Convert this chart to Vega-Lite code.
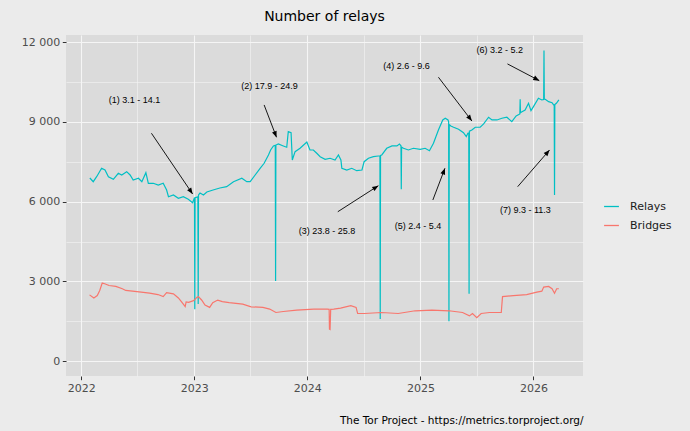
{
  "$schema": "https://vega.github.io/schema/vega-lite/v6.json",
  "width": 517,
  "height": 341,
  "autosize": {"type": "none"},
  "padding": {"left": 66, "top": 35, "right": 107, "bottom": 55},
  "background": "#EBEBEB",
  "config": {
    "view": {"fill": "#DBDBDB", "stroke": null},
    "font": "DejaVu Sans"
  },
  "title": {
    "text": "Number of relays",
    "fontSize": 14,
    "font": "DejaVu Sans",
    "fontWeight": "normal",
    "color": "#000000",
    "anchor": "middle",
    "baseline": "alphabetic",
    "offset": 0.5
  },
  "datasets": {
    "series": [
      {"date": "2022-01-29", "value": 6890, "series": "Relays"},
      {"date": "2022-02-09", "value": 6751, "series": "Relays"},
      {"date": "2022-02-20", "value": 6939, "series": "Relays"},
      {"date": "2022-03-08", "value": 7255, "series": "Relays"},
      {"date": "2022-03-19", "value": 7191, "series": "Relays"},
      {"date": "2022-03-30", "value": 6939, "series": "Relays"},
      {"date": "2022-04-15", "value": 6841, "series": "Relays"},
      {"date": "2022-05-01", "value": 7067, "series": "Relays"},
      {"date": "2022-05-12", "value": 7003, "series": "Relays"},
      {"date": "2022-05-28", "value": 7127, "series": "Relays"},
      {"date": "2022-06-08", "value": 7003, "series": "Relays"},
      {"date": "2022-06-18", "value": 6815, "series": "Relays"},
      {"date": "2022-07-05", "value": 6879, "series": "Relays"},
      {"date": "2022-07-16", "value": 6751, "series": "Relays"},
      {"date": "2022-07-29", "value": 7089, "series": "Relays"},
      {"date": "2022-08-06", "value": 6690, "series": "Relays"},
      {"date": "2022-08-22", "value": 6690, "series": "Relays"},
      {"date": "2022-09-07", "value": 6626, "series": "Relays"},
      {"date": "2022-09-23", "value": 6690, "series": "Relays"},
      {"date": "2022-10-04", "value": 6438, "series": "Relays"},
      {"date": "2022-10-10", "value": 6186, "series": "Relays"},
      {"date": "2022-10-26", "value": 6250, "series": "Relays"},
      {"date": "2022-11-11", "value": 6126, "series": "Relays"},
      {"date": "2022-11-27", "value": 6186, "series": "Relays"},
      {"date": "2022-12-13", "value": 6088, "series": "Relays"},
      {"date": "2022-12-27", "value": 5960, "series": "Relays"},
      {"date": "2023-01-02", "value": 6150, "series": "Relays"},
      {"date": "2023-01-03", "value": 1950, "series": "Relays"},
      {"date": "2023-01-04", "value": 6150, "series": "Relays"},
      {"date": "2023-01-13", "value": 6180, "series": "Relays"},
      {"date": "2023-01-14", "value": 2150, "series": "Relays"},
      {"date": "2023-01-15", "value": 6250, "series": "Relays"},
      {"date": "2023-01-20", "value": 6325, "series": "Relays"},
      {"date": "2023-01-31", "value": 6250, "series": "Relays"},
      {"date": "2023-02-11", "value": 6363, "series": "Relays"},
      {"date": "2023-03-03", "value": 6438, "series": "Relays"},
      {"date": "2023-03-25", "value": 6513, "series": "Relays"},
      {"date": "2023-04-16", "value": 6562, "series": "Relays"},
      {"date": "2023-05-08", "value": 6751, "series": "Relays"},
      {"date": "2023-06-04", "value": 6879, "series": "Relays"},
      {"date": "2023-06-20", "value": 6751, "series": "Relays"},
      {"date": "2023-07-01", "value": 6751, "series": "Relays"},
      {"date": "2023-07-17", "value": 7003, "series": "Relays"},
      {"date": "2023-08-02", "value": 7255, "series": "Relays"},
      {"date": "2023-08-15", "value": 7443, "series": "Relays"},
      {"date": "2023-08-29", "value": 7756, "series": "Relays"},
      {"date": "2023-09-05", "value": 7944, "series": "Relays"},
      {"date": "2023-09-14", "value": 8095, "series": "Relays"},
      {"date": "2023-09-20", "value": 8120, "series": "Relays"},
      {"date": "2023-09-21", "value": 3010, "series": "Relays"},
      {"date": "2023-09-22", "value": 8130, "series": "Relays"},
      {"date": "2023-09-30", "value": 8170, "series": "Relays"},
      {"date": "2023-10-16", "value": 8095, "series": "Relays"},
      {"date": "2023-10-27", "value": 8046, "series": "Relays"},
      {"date": "2023-11-01", "value": 8633, "series": "Relays"},
      {"date": "2023-11-10", "value": 8595, "series": "Relays"},
      {"date": "2023-11-14", "value": 7568, "series": "Relays"},
      {"date": "2023-11-23", "value": 7880, "series": "Relays"},
      {"date": "2023-12-09", "value": 8008, "series": "Relays"},
      {"date": "2023-12-31", "value": 8245, "series": "Relays"},
      {"date": "2024-01-10", "value": 7944, "series": "Relays"},
      {"date": "2024-01-21", "value": 7944, "series": "Relays"},
      {"date": "2024-02-01", "value": 7820, "series": "Relays"},
      {"date": "2024-02-12", "value": 7692, "series": "Relays"},
      {"date": "2024-02-28", "value": 7594, "series": "Relays"},
      {"date": "2024-03-15", "value": 7632, "series": "Relays"},
      {"date": "2024-03-31", "value": 7568, "series": "Relays"},
      {"date": "2024-04-11", "value": 7756, "series": "Relays"},
      {"date": "2024-04-19", "value": 7568, "series": "Relays"},
      {"date": "2024-04-22", "value": 7255, "series": "Relays"},
      {"date": "2024-05-08", "value": 7191, "series": "Relays"},
      {"date": "2024-05-24", "value": 7255, "series": "Relays"},
      {"date": "2024-06-09", "value": 7165, "series": "Relays"},
      {"date": "2024-06-26", "value": 7191, "series": "Relays"},
      {"date": "2024-07-03", "value": 7504, "series": "Relays"},
      {"date": "2024-07-17", "value": 7632, "series": "Relays"},
      {"date": "2024-08-02", "value": 7692, "series": "Relays"},
      {"date": "2024-08-18", "value": 7718, "series": "Relays"},
      {"date": "2024-08-23", "value": 7720, "series": "Relays"},
      {"date": "2024-08-24", "value": 1580, "series": "Relays"},
      {"date": "2024-08-25", "value": 7740, "series": "Relays"},
      {"date": "2024-08-29", "value": 7756, "series": "Relays"},
      {"date": "2024-09-14", "value": 8008, "series": "Relays"},
      {"date": "2024-10-01", "value": 8095, "series": "Relays"},
      {"date": "2024-10-17", "value": 8095, "series": "Relays"},
      {"date": "2024-10-25", "value": 8170, "series": "Relays"},
      {"date": "2024-10-30", "value": 8100, "series": "Relays"},
      {"date": "2024-10-31", "value": 6464, "series": "Relays"},
      {"date": "2024-11-01", "value": 8050, "series": "Relays"},
      {"date": "2024-11-07", "value": 8008, "series": "Relays"},
      {"date": "2024-11-23", "value": 7944, "series": "Relays"},
      {"date": "2024-12-09", "value": 8008, "series": "Relays"},
      {"date": "2024-12-31", "value": 7970, "series": "Relays"},
      {"date": "2025-01-16", "value": 8008, "series": "Relays"},
      {"date": "2025-01-30", "value": 7918, "series": "Relays"},
      {"date": "2025-02-12", "value": 8196, "series": "Relays"},
      {"date": "2025-02-28", "value": 8697, "series": "Relays"},
      {"date": "2025-03-14", "value": 9074, "series": "Relays"},
      {"date": "2025-03-22", "value": 9138, "series": "Relays"},
      {"date": "2025-03-31", "value": 9074, "series": "Relays"},
      {"date": "2025-04-02", "value": 9000, "series": "Relays"},
      {"date": "2025-04-03", "value": 1500, "series": "Relays"},
      {"date": "2025-04-04", "value": 8900, "series": "Relays"},
      {"date": "2025-04-09", "value": 8848, "series": "Relays"},
      {"date": "2025-04-18", "value": 8799, "series": "Relays"},
      {"date": "2025-05-04", "value": 8724, "series": "Relays"},
      {"date": "2025-05-20", "value": 8595, "series": "Relays"},
      {"date": "2025-05-29", "value": 8445, "series": "Relays"},
      {"date": "2025-06-03", "value": 8573, "series": "Relays"},
      {"date": "2025-06-06", "value": 8580, "series": "Relays"},
      {"date": "2025-06-07", "value": 2530, "series": "Relays"},
      {"date": "2025-06-08", "value": 8650, "series": "Relays"},
      {"date": "2025-06-16", "value": 8697, "series": "Relays"},
      {"date": "2025-06-27", "value": 8799, "series": "Relays"},
      {"date": "2025-07-13", "value": 8799, "series": "Relays"},
      {"date": "2025-07-24", "value": 8923, "series": "Relays"},
      {"date": "2025-08-09", "value": 9175, "series": "Relays"},
      {"date": "2025-08-20", "value": 9074, "series": "Relays"},
      {"date": "2025-09-05", "value": 9074, "series": "Relays"},
      {"date": "2025-09-21", "value": 9138, "series": "Relays"},
      {"date": "2025-10-07", "value": 9175, "series": "Relays"},
      {"date": "2025-10-23", "value": 9010, "series": "Relays"},
      {"date": "2025-11-06", "value": 9224, "series": "Relays"},
      {"date": "2025-11-18", "value": 9300, "series": "Relays"},
      {"date": "2025-11-19", "value": 9853, "series": "Relays"},
      {"date": "2025-11-20", "value": 9350, "series": "Relays"},
      {"date": "2025-11-25", "value": 9386, "series": "Relays"},
      {"date": "2025-12-05", "value": 9450, "series": "Relays"},
      {"date": "2025-12-16", "value": 9702, "series": "Relays"},
      {"date": "2025-12-24", "value": 9424, "series": "Relays"},
      {"date": "2026-01-01", "value": 9575, "series": "Relays"},
      {"date": "2026-01-17", "value": 9891, "series": "Relays"},
      {"date": "2026-01-28", "value": 9827, "series": "Relays"},
      {"date": "2026-02-03", "value": 9840, "series": "Relays"},
      {"date": "2026-02-04", "value": 11683, "series": "Relays"},
      {"date": "2026-02-05", "value": 9860, "series": "Relays"},
      {"date": "2026-02-08", "value": 9853, "series": "Relays"},
      {"date": "2026-02-19", "value": 9763, "series": "Relays"},
      {"date": "2026-03-02", "value": 9725, "series": "Relays"},
      {"date": "2026-03-07", "value": 9638, "series": "Relays"},
      {"date": "2026-03-09", "value": 9640, "series": "Relays"},
      {"date": "2026-03-10", "value": 6250, "series": "Relays"},
      {"date": "2026-03-11", "value": 9650, "series": "Relays"},
      {"date": "2026-03-16", "value": 9702, "series": "Relays"},
      {"date": "2026-03-24", "value": 9827, "series": "Relays"},
      {"date": "2022-01-28", "value": 2492, "series": "Bridges"},
      {"date": "2022-02-11", "value": 2376, "series": "Bridges"},
      {"date": "2022-02-22", "value": 2466, "series": "Bridges"},
      {"date": "2022-03-02", "value": 2658, "series": "Bridges"},
      {"date": "2022-03-10", "value": 2937, "series": "Bridges"},
      {"date": "2022-03-18", "value": 2910, "series": "Bridges"},
      {"date": "2022-04-01", "value": 2846, "series": "Bridges"},
      {"date": "2022-04-23", "value": 2809, "series": "Bridges"},
      {"date": "2022-05-14", "value": 2722, "series": "Bridges"},
      {"date": "2022-05-25", "value": 2658, "series": "Bridges"},
      {"date": "2022-06-16", "value": 2632, "series": "Bridges"},
      {"date": "2022-07-14", "value": 2594, "series": "Bridges"},
      {"date": "2022-08-10", "value": 2556, "series": "Bridges"},
      {"date": "2022-09-06", "value": 2504, "series": "Bridges"},
      {"date": "2022-09-23", "value": 2428, "series": "Bridges"},
      {"date": "2022-10-04", "value": 2579, "series": "Bridges"},
      {"date": "2022-10-26", "value": 2530, "series": "Bridges"},
      {"date": "2022-11-11", "value": 2376, "series": "Bridges"},
      {"date": "2022-11-20", "value": 2251, "series": "Bridges"},
      {"date": "2022-11-27", "value": 2146, "series": "Bridges"},
      {"date": "2022-12-03", "value": 2050, "series": "Bridges"},
      {"date": "2022-12-06", "value": 2230, "series": "Bridges"},
      {"date": "2022-12-14", "value": 2210, "series": "Bridges"},
      {"date": "2022-12-30", "value": 2274, "series": "Bridges"},
      {"date": "2023-01-10", "value": 2400, "series": "Bridges"},
      {"date": "2023-01-15", "value": 2420, "series": "Bridges"},
      {"date": "2023-01-25", "value": 2300, "series": "Bridges"},
      {"date": "2023-02-05", "value": 2108, "series": "Bridges"},
      {"date": "2023-02-20", "value": 2022, "series": "Bridges"},
      {"date": "2023-03-02", "value": 2195, "series": "Bridges"},
      {"date": "2023-03-18", "value": 2297, "series": "Bridges"},
      {"date": "2023-04-02", "value": 2240, "series": "Bridges"},
      {"date": "2023-04-24", "value": 2200, "series": "Bridges"},
      {"date": "2023-06-07", "value": 2146, "series": "Bridges"},
      {"date": "2023-07-04", "value": 2044, "series": "Bridges"},
      {"date": "2023-08-11", "value": 2022, "series": "Bridges"},
      {"date": "2023-09-02", "value": 1958, "series": "Bridges"},
      {"date": "2023-09-22", "value": 1830, "series": "Bridges"},
      {"date": "2023-10-16", "value": 1867, "series": "Bridges"},
      {"date": "2023-11-28", "value": 1920, "series": "Bridges"},
      {"date": "2024-01-22", "value": 1958, "series": "Bridges"},
      {"date": "2024-03-06", "value": 1958, "series": "Bridges"},
      {"date": "2024-03-12", "value": 1950, "series": "Bridges"},
      {"date": "2024-03-13", "value": 1200, "series": "Bridges"},
      {"date": "2024-03-15", "value": 1190, "series": "Bridges"},
      {"date": "2024-03-17", "value": 1950, "series": "Bridges"},
      {"date": "2024-03-27", "value": 1958, "series": "Bridges"},
      {"date": "2024-04-18", "value": 1995, "series": "Bridges"},
      {"date": "2024-05-21", "value": 2086, "series": "Bridges"},
      {"date": "2024-06-07", "value": 2022, "series": "Bridges"},
      {"date": "2024-06-12", "value": 1792, "series": "Bridges"},
      {"date": "2024-07-04", "value": 1792, "series": "Bridges"},
      {"date": "2024-08-28", "value": 1830, "series": "Bridges"},
      {"date": "2024-10-21", "value": 1792, "series": "Bridges"},
      {"date": "2024-12-15", "value": 1894, "series": "Bridges"},
      {"date": "2025-02-07", "value": 1920, "series": "Bridges"},
      {"date": "2025-04-03", "value": 1894, "series": "Bridges"},
      {"date": "2025-05-17", "value": 1830, "series": "Bridges"},
      {"date": "2025-06-08", "value": 1702, "series": "Bridges"},
      {"date": "2025-06-18", "value": 1792, "series": "Bridges"},
      {"date": "2025-07-02", "value": 1638, "series": "Bridges"},
      {"date": "2025-07-16", "value": 1792, "series": "Bridges"},
      {"date": "2025-08-12", "value": 1830, "series": "Bridges"},
      {"date": "2025-09-19", "value": 1830, "series": "Bridges"},
      {"date": "2025-09-23", "value": 2428, "series": "Bridges"},
      {"date": "2025-10-28", "value": 2466, "series": "Bridges"},
      {"date": "2025-12-10", "value": 2504, "series": "Bridges"},
      {"date": "2026-01-12", "value": 2594, "series": "Bridges"},
      {"date": "2026-01-28", "value": 2632, "series": "Bridges"},
      {"date": "2026-02-03", "value": 2786, "series": "Bridges"},
      {"date": "2026-02-19", "value": 2809, "series": "Bridges"},
      {"date": "2026-03-02", "value": 2722, "series": "Bridges"},
      {"date": "2026-03-10", "value": 2556, "series": "Bridges"},
      {"date": "2026-03-17", "value": 2722, "series": "Bridges"},
      {"date": "2026-03-24", "value": 2722, "series": "Bridges"}
    ],
    "labels": [
      {"date": "2022-06-22", "value": 9827, "label": "(1) 3.1 - 14.1"},
      {"date": "2023-09-01", "value": 10365, "label": "(2) 17.9 - 24.9"},
      {"date": "2024-03-05", "value": 4906, "label": "(3) 23.8 - 25.8"},
      {"date": "2024-11-17", "value": 11118, "label": "(4) 2.6 - 9.6"},
      {"date": "2024-12-24", "value": 5083, "label": "(5) 2.4 - 5.4"},
      {"date": "2025-09-14", "value": 11709, "label": "(6) 3.2 - 5.2"},
      {"date": "2025-12-06", "value": 5685, "label": "(7) 9.3 - 11.3"}
    ],
    "arrows": [
      {"d1": "2022-08-16", "v1": 8573, "d2": "2022-12-27", "v2": 6288},
      {"d1": "2023-08-15", "v1": 9638, "d2": "2023-09-24", "v2": 8422},
      {"d1": "2024-04-09", "v1": 5621, "d2": "2024-08-18", "v2": 6600},
      {"d1": "2025-02-28", "v1": 10681, "d2": "2025-06-16", "v2": 9036},
      {"d1": "2025-02-10", "v1": 6062, "d2": "2025-03-21", "v2": 7255},
      {"d1": "2025-10-09", "v1": 11182, "d2": "2026-01-20", "v2": 10553},
      {"d1": "2025-11-11", "v1": 6563, "d2": "2026-02-22", "v2": 7944}
    ]
  },
  "layer": [
    {
      "data": {"name": "series"},
      "mark": {"type": "line", "strokeWidth": 1.2},
      "encoding": {
        "x": {
          "field": "date",
          "type": "temporal",
          "scale": {
            "type": "utc",
            "domain": [
              {"year": 2021, "month": 11, "date": 13, "utc": true},
              {"year": 2026, "month": 6, "date": 10, "utc": true}
            ]
          },
          "title": "The Tor Project - https://metrics.torproject.org/",
          "axis": {
            "values": [
              {"year": 2022, "month": 1, "date": 1, "utc": true},
              {"year": 2022, "month": 4, "date": 1, "utc": true},
              {"year": 2022, "month": 7, "date": 1, "utc": true},
              {"year": 2022, "month": 10, "date": 1, "utc": true},
              {"year": 2023, "month": 1, "date": 1, "utc": true},
              {"year": 2023, "month": 4, "date": 1, "utc": true},
              {"year": 2023, "month": 7, "date": 1, "utc": true},
              {"year": 2023, "month": 10, "date": 1, "utc": true},
              {"year": 2024, "month": 1, "date": 1, "utc": true},
              {"year": 2024, "month": 4, "date": 1, "utc": true},
              {"year": 2024, "month": 7, "date": 1, "utc": true},
              {"year": 2024, "month": 10, "date": 1, "utc": true},
              {"year": 2025, "month": 1, "date": 1, "utc": true},
              {"year": 2025, "month": 4, "date": 1, "utc": true},
              {"year": 2025, "month": 7, "date": 1, "utc": true},
              {"year": 2025, "month": 10, "date": 1, "utc": true},
              {"year": 2026, "month": 1, "date": 1, "utc": true},
              {"year": 2026, "month": 4, "date": 1, "utc": true}
            ],
            "labelExpr": "utcmonth(datum.value) === 0 ? utcFormat(datum.value, '%Y') : ''",
            "domain": false,
            "grid": true,
            "gridColor": "#F5F5F5",
            "gridWidth": {"condition": {"test": "utcmonth(datum.value) !== 0", "value": 0.55}, "value": 1.1},
            "tickOpacity": {"condition": {"test": "utcmonth(datum.value) !== 0", "value": 0}, "value": 1},
            "tickColor": "#333333",
            "tickSize": 3.7,
            "tickWidth": 1,
            "labelColor": "#4D4D4D",
            "labelFontSize": 11,
            "labelFont": "DejaVu Sans",
            "labelPadding": 2.5,
            "labelFlush": false,
            "labelOverlap": false,
            "titleAnchor": "end",
            "titleFontSize": 10.5,
            "titleFont": "DejaVu Sans",
            "titleFontWeight": "normal",
            "titleColor": "#000000",
            "titlePadding": 22
          }
        },
        "y": {
          "field": "value",
          "type": "quantitative",
          "scale": {"domain": [-560, 12270], "nice": false, "zero": false},
          "title": null,
          "axis": {
            "values": [0, 1500, 3000, 4500, 6000, 7500, 9000, 10500, 12000],
            "labelExpr": "datum.value % 3000 === 0 ? replace(format(datum.value, ','), ',', ' ') : ''",
            "domain": false,
            "grid": true,
            "gridColor": "#F5F5F5",
            "gridWidth": {"condition": {"test": "datum.value % 3000 !== 0", "value": 0.55}, "value": 1.1},
            "tickOpacity": {"condition": {"test": "datum.value % 3000 !== 0", "value": 0}, "value": 1},
            "tickColor": "#333333",
            "tickSize": 3.7,
            "tickWidth": 1,
            "labelColor": "#4D4D4D",
            "labelFontSize": 11,
            "labelFont": "DejaVu Sans",
            "labelPadding": 2.5
          }
        },
        "color": {
          "field": "series",
          "type": "nominal",
          "scale": {"domain": ["Relays", "Bridges"], "range": ["#00BFC4", "#F8766D"]},
          "legend": {
            "title": null,
            "orient": "none",
            "legendX": 537,
            "legendY": 163,
            "symbolType": "stroke",
            "symbolStrokeWidth": 1.3,
            "symbolSize": 220,
            "labelFontSize": 11,
            "labelFont": "DejaVu Sans",
            "labelColor": "#1A1A1A",
            "labelOffset": 10,
            "rowPadding": 5,
            "padding": 0
          }
        }
      }
    },
    {
      "data": {"name": "arrows"},
      "mark": {"type": "rule", "color": "#000000", "strokeWidth": 0.9},
      "encoding": {
        "x": {"field": "d1", "type": "temporal", "title": "The Tor Project - https://metrics.torproject.org/"},
        "y": {"field": "v1", "type": "quantitative", "title": null},
        "x2": {"field": "d2"},
        "y2": {"field": "v2"}
      }
    },
    {
      "data": {"name": "arrows"},
      "mark": {
        "type": "point",
        "shape": "M0,0 L-0.4,1 L0.4,1 Z",
        "filled": true,
        "color": "#000000",
        "opacity": 1,
        "size": 150,
        "angle": {"expr": "atan2(scale('x', toDate(datum.d2)) - scale('x', toDate(datum.d1)), scale('y', datum.v1) - scale('y', datum.v2)) * 180 / PI"}
      },
      "encoding": {
        "x": {"field": "d2", "type": "temporal", "title": "The Tor Project - https://metrics.torproject.org/"},
        "y": {"field": "v2", "type": "quantitative", "title": null}
      }
    },
    {
      "data": {"name": "labels"},
      "mark": {"type": "text", "font": "Liberation Sans", "fontSize": 9, "color": "#000000", "align": "center", "baseline": "middle"},
      "encoding": {
        "x": {"field": "date", "type": "temporal", "title": "The Tor Project - https://metrics.torproject.org/"},
        "y": {"field": "value", "type": "quantitative", "title": null},
        "text": {"field": "label"}
      }
    }
  ]
}
